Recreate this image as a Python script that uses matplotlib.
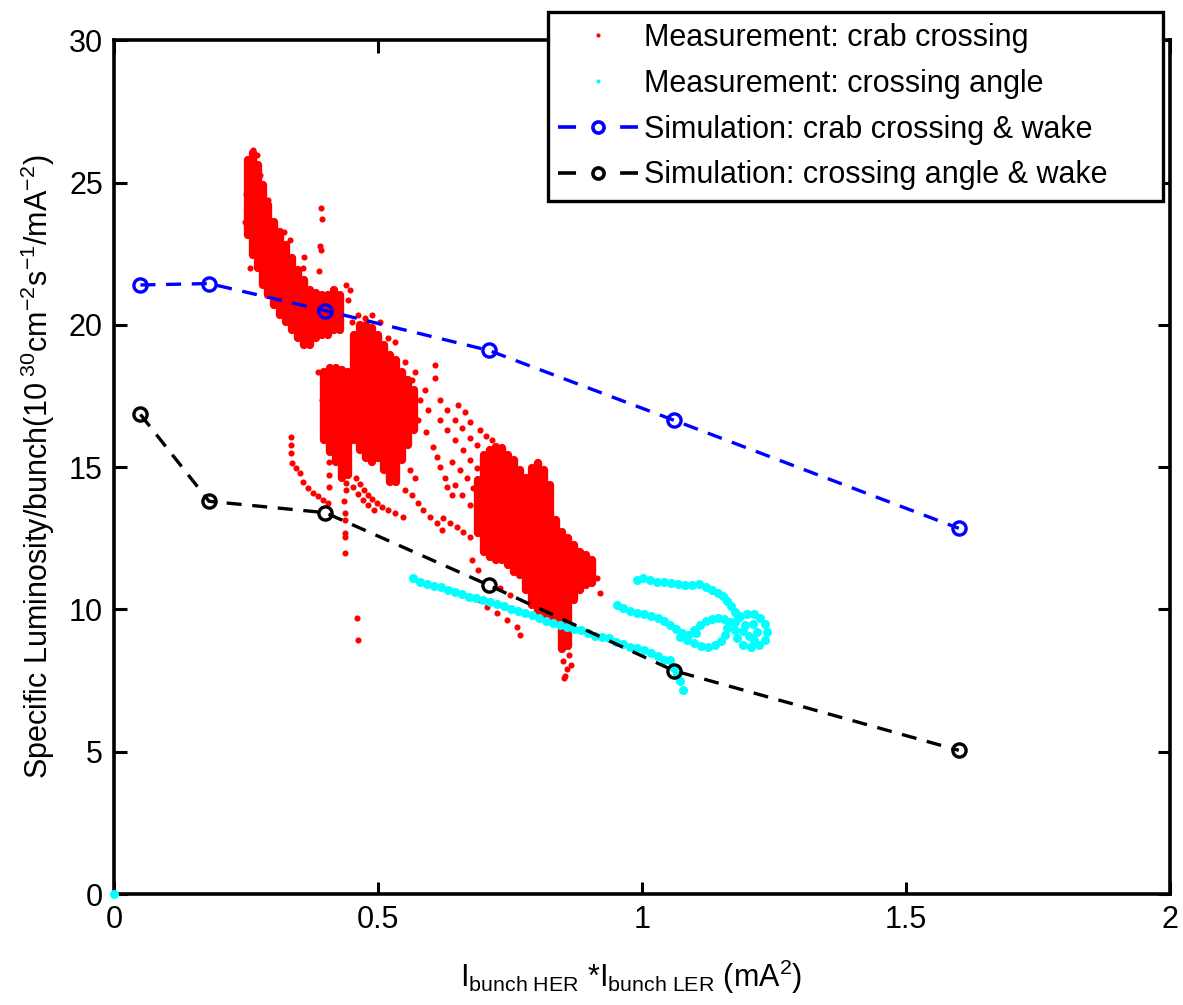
import matplotlib
matplotlib.use('Agg')
import matplotlib.pyplot as plt
from matplotlib.lines import Line2D

plt.rcParams['font.family'] = ['Liberation Sans', 'DejaVu Sans']
plt.rcParams['mathtext.fontset'] = 'custom'
plt.rcParams['mathtext.rm'] = 'Liberation Sans'
plt.rcParams['mathtext.it'] = 'Liberation Sans'

# ---------------- data ----------------
sim_x = [0.05, 0.18, 0.40, 0.71, 1.06, 1.60]
sim_crab = [21.4, 21.45, 20.5, 19.1, 16.65, 12.85]
sim_angle = [16.85, 13.8, 13.4, 10.85, 7.85, 5.05]

# dense parts of the crab-crossing measurement: column x, y low, y high
crab_col_x = [0.254, 0.263, 0.273, 0.282, 0.292, 0.303, 0.314, 0.326, 0.337, 0.348,
              0.360, 0.371, 0.383, 0.394, 0.405, 0.417, 0.428,
              0.398, 0.409, 0.420, 0.432, 0.443,
              0.455, 0.466, 0.477, 0.489, 0.500, 0.511, 0.523, 0.534, 0.545, 0.557, 0.568,
              0.689, 0.701, 0.712, 0.723, 0.735, 0.746, 0.758, 0.769, 0.780, 0.792,
              0.803, 0.814, 0.826, 0.837, 0.848, 0.860, 0.871, 0.883, 0.894, 0.905]
crab_col_lo = [23.15, 22.44, 21.99, 21.39, 21.04, 20.69, 20.33, 20.09, 19.81, 19.53,
               19.28, 19.28, 19.53, 19.63, 19.63, 19.81, 19.81,
               15.94, 15.52, 15.17, 14.61, 14.72,
               15.94, 15.59, 15.31, 15.17, 15.31, 14.89, 14.47, 14.47, 15.24, 15.77, 16.30,
               12.68, 12.01, 11.84, 11.73, 11.73, 11.55, 11.31, 11.20, 10.68, 10.15,
               9.90, 9.73, 9.62, 9.62, 8.60, 8.70, 10.33, 10.68, 10.85, 10.92]
crab_col_hi = [25.78, 26.05, 25.60, 24.90, 24.20, 23.60, 23.25, 22.79, 22.34, 21.92,
               21.57, 21.22, 21.11, 21.04, 21.04, 21.22, 21.04,
               18.33, 18.47, 18.47, 18.40, 18.33,
               19.63, 19.98, 19.98, 19.88, 19.63, 19.28, 18.93, 18.76, 18.33, 18.05, 17.70,
               14.54, 15.42, 15.59, 15.70, 15.66, 15.42, 15.24, 14.89, 14.61, 14.96,
               15.14, 14.89, 14.36, 13.14, 12.71, 12.50, 12.26, 12.01, 11.91, 11.73]

# individual crab-crossing measurement points
crab_x = [0.392, 0.394, 0.390, 0.392, 0.388, 0.292, 0.292, 0.360, 0.358, 0.252, 0.248,
          0.277, 0.322, 0.333, 0.439, 0.447, 0.443, 0.263, 0.270, 0.250, 0.258,
          0.608, 0.608, 0.589, 0.580, 0.595, 0.576, 0.591, 0.604, 0.612, 0.617, 0.631,
          0.627, 0.640, 0.561, 0.570, 0.551,
          0.617, 0.631, 0.646, 0.659, 0.674, 0.688,
          0.617, 0.631, 0.646, 0.661, 0.674, 0.688,
          0.640, 0.655, 0.669, 0.680, 0.646, 0.659, 0.674,
          0.652, 0.665, 0.693, 0.705, 0.716, 0.674,
          0.335, 0.335, 0.335, 0.337, 0.345, 0.352, 0.358, 0.367, 0.377, 0.386, 0.396, 0.405,
          0.407, 0.407, 0.407, 0.407,
          0.4375, 0.4375, 0.4375, 0.4375, 0.4375, 0.440, 0.436, 0.439,
          0.460, 0.462,
          0.458, 0.466, 0.473, 0.481, 0.489, 0.498, 0.508, 0.519, 0.532, 0.547,
          0.453, 0.462, 0.472, 0.481, 0.492,
          0.564, 0.576, 0.585, 0.598, 0.612, 0.621,
          0.623, 0.636, 0.650, 0.661, 0.674,
          0.706, 0.725, 0.744, 0.763, 0.693, 0.769,
          0.689, 0.678, 0.731, 0.750, 0.920, 0.915,
          0.386, 0.394, 0.538, 0.551, 0.570, 0.564, 0.451, 0.462, 0.475, 0.489, 0.504,
          0.519, 0.532,
          0.851, 0.857, 0.855, 0.862, 0.849, 0.866, 0.853]
crab_y = [24.09, 23.71, 22.77, 22.62, 21.88, 24.38, 24.09, 22.37, 21.99, 23.92, 23.60,
          25.27, 23.25, 22.97, 21.39, 21.22, 20.86, 26.13, 25.95, 24.60, 22.00,
          18.58, 18.12, 17.70, 17.35, 17.00, 16.65, 16.23, 15.70, 15.35, 15.00, 14.29,
          14.61, 14.01, 14.89, 14.61, 14.19,
          17.35, 17.00, 16.65, 16.37, 16.02, 15.77,
          16.65, 16.30, 15.95, 15.60, 15.24, 14.96,
          15.17, 14.89, 14.61, 14.26, 14.36, 14.01, 13.66,
          17.17, 16.93, 16.30, 16.09, 15.95, 16.58,
          16.05, 15.77, 15.49, 15.14, 14.96, 14.79, 14.47, 14.26, 14.08, 13.98, 13.84, 13.73,
          15.59, 15.17, 14.72, 14.29,
          13.38, 13.14, 12.68, 12.54, 11.98, 14.20, 13.80, 14.45,
          9.69, 8.92,
          14.61, 14.40, 14.19, 14.01, 13.87, 13.73, 13.59, 13.49, 13.38, 13.24,
          14.29, 14.05, 13.84, 13.66, 13.49,
          14.01, 13.73, 13.49, 13.24, 13.03, 12.79,
          13.21, 13.03, 12.89, 12.71, 12.54,
          10.08, 9.87, 9.62, 9.38, 10.33, 9.10,
          11.38, 11.73, 10.75, 10.50, 10.57, 11.10,
          18.33, 17.35, 18.33, 18.69, 18.33, 18.05, 20.09, 20.33, 20.23, 20.33, 20.09,
          19.53, 19.39,
          8.20, 7.90, 7.65, 8.40, 8.90, 8.05, 7.60]

# crossing-angle measurement points
angle_x = [0.0,
           0.566, 0.580, 0.593, 0.606, 0.619, 0.633, 0.646, 0.659, 0.672, 0.686, 0.699,
           0.712, 0.725, 0.739, 0.752, 0.765, 0.778, 0.792, 0.805, 0.818, 0.831, 0.845,
           0.858, 0.871, 0.884, 0.898, 0.911, 0.924, 0.938, 0.951, 0.964, 0.977, 0.991,
           1.004, 1.017, 1.030, 1.042, 1.053, 1.061, 1.066, 1.072, 1.078,
           0.991, 1.002, 1.015, 1.028, 1.042, 1.055, 1.068, 1.081, 1.095, 1.108, 1.121,
           1.133, 1.144, 1.153, 1.161, 1.169, 1.176, 1.182,
           0.953, 0.964, 0.977, 0.991, 1.004, 1.017, 1.030, 1.042, 1.053, 1.064, 1.076,
           1.087, 1.098, 1.110, 1.121, 1.133, 1.144, 1.155, 1.167,
           1.072, 1.085, 1.098, 1.112, 1.125, 1.138, 1.150, 1.157, 1.161, 1.102,
           1.176, 1.186, 1.199, 1.212, 1.223, 1.233, 1.237, 1.233, 1.222, 1.206, 1.191,
           1.180, 1.176, 1.195, 1.210, 1.218, 1.203, 1.191, 1.212]
angle_y = [0.0,
           11.10, 10.96, 10.89, 10.82, 10.78, 10.68, 10.61, 10.54, 10.43, 10.40, 10.33,
           10.26, 10.19, 10.11, 10.01, 9.94, 9.87, 9.80, 9.69, 9.59, 9.52, 9.45,
           9.38, 9.31, 9.27, 9.17, 9.06, 9.03, 8.99, 8.85, 8.78, 8.67, 8.64,
           8.57, 8.46, 8.36, 8.22, 8.22, 7.94, 7.69, 7.48, 7.17,
           11.03, 11.10, 11.03, 10.96, 10.96, 10.92, 10.89, 10.85, 10.85, 10.89, 10.78,
           10.68, 10.57, 10.47, 10.29, 10.11, 9.90, 9.69,
           10.15, 10.04, 9.94, 9.87, 9.83, 9.76, 9.69, 9.59, 9.45, 9.31, 9.17,
           9.10, 9.27, 9.45, 9.59, 9.66, 9.69, 9.66, 9.55,
           9.03, 8.92, 8.82, 8.71, 8.67, 8.74, 8.88, 9.10, 9.34, 9.17,
           9.55, 9.76, 9.83, 9.83, 9.69, 9.48, 9.20, 8.92, 8.74, 8.67, 8.74,
           8.99, 9.27, 9.45, 9.48, 9.20, 9.06, 9.24, 8.92]

x_ticks = [0, 0.5, 1, 1.5, 2]
x_tick_labels = ['0', '0.5', '1', '1.5', '2']
y_ticks = [0, 5, 10, 15, 20, 25, 30]
y_tick_labels = ['0', '5', '10', '15', '20', '25', '30']

# ---------------- figure ----------------
fig = plt.figure(figsize=(11.83, 10.05), dpi=100)
ax = fig.add_axes([0.0964, 0.1104, 0.8926, 0.8496])

RED = '#ff0000'
CYAN = '#00ffff'

ax.vlines(crab_col_x, crab_col_lo, crab_col_hi, colors=RED, linewidth=6.0,
          capstyle='round', zorder=2)
ax.plot(crab_x, crab_y, linestyle='none', marker='o', ms=4.4, mew=0, color=RED, zorder=2)
ax.plot(angle_x, angle_y, linestyle='none', marker='o', ms=6.5, mew=0, color=CYAN,
        zorder=3, clip_on=False)

ax.plot(sim_x, sim_crab, color='#0000ff', linestyle=(0, (4.5, 3.2)), linewidth=2.4,
        marker='o', ms=9.5, mfc='none', mec='#0000ff', mew=2.4, zorder=4)
ax.plot(sim_x, sim_angle, color='black', linestyle=(0, (4.5, 3.2)), linewidth=2.4,
        marker='o', ms=9.5, mfc='none', mec='black', mew=2.4, zorder=4)

ax.set_xlim(0, 2)
ax.set_ylim(0, 30)
ax.set_xticks(x_ticks)
ax.set_xticklabels(x_tick_labels)
ax.set_yticks(y_ticks)
ax.set_yticklabels(y_tick_labels)
ax.tick_params(direction='in', length=9, width=2.2, labelsize=22, top=True, right=True,
               pad=8)
for sp in ax.spines.values():
    sp.set_linewidth(2.6)

ax.set_ylabel(r'Specific Luminosity/bunch(10$^{\ 30}$cm$^{-2}$s$^{-1}$/mA$^{-2}$)',
              fontsize=22)
ax.yaxis.set_label_coords(-0.054, 0.5)
ax.set_xlabel(r'I$_{\rm bunch\ HER}$ *I$_{\rm bunch\ LER}$ (mA$^{2}$)', fontsize=22)
ax.xaxis.set_label_coords(0.49, -0.075)

handles = [
    Line2D([], [], linestyle='none', marker='o', ms=3, mew=0, color=RED),
    Line2D([], [], linestyle='none', marker='o', ms=3, mew=0, color=CYAN),
    Line2D([], [], color='#0000ff', linestyle=(0, (5.0, 12.2)), linewidth=2.6,
           marker='o', ms=8, mfc='none', mec='#0000ff', mew=2.6),
    Line2D([], [], color='black', linestyle=(0, (5.0, 12.2)), linewidth=2.6,
           marker='o', ms=8, mfc='none', mec='black', mew=2.6),
]
labels = ['Measurement: crab crossing', 'Measurement: crossing angle',
          'Simulation: crab crossing & wake', 'Simulation: crossing angle & wake']
leg = ax.legend(handles, labels, loc='upper left', mode='expand',
                bbox_to_anchor=(0.463, 0.801, 0.520, 0.187),
                bbox_transform=fig.transFigure, fontsize=22, frameon=True,
                fancybox=False, framealpha=1, edgecolor='black',
                handlelength=2.6, handletextpad=0.2, labelspacing=0.52,
                borderpad=0.35, borderaxespad=0)
leg.get_frame().set_linewidth(2.4)
leg.set_zorder(10)

fig.savefig('out.png', dpi=100, facecolor='white')
